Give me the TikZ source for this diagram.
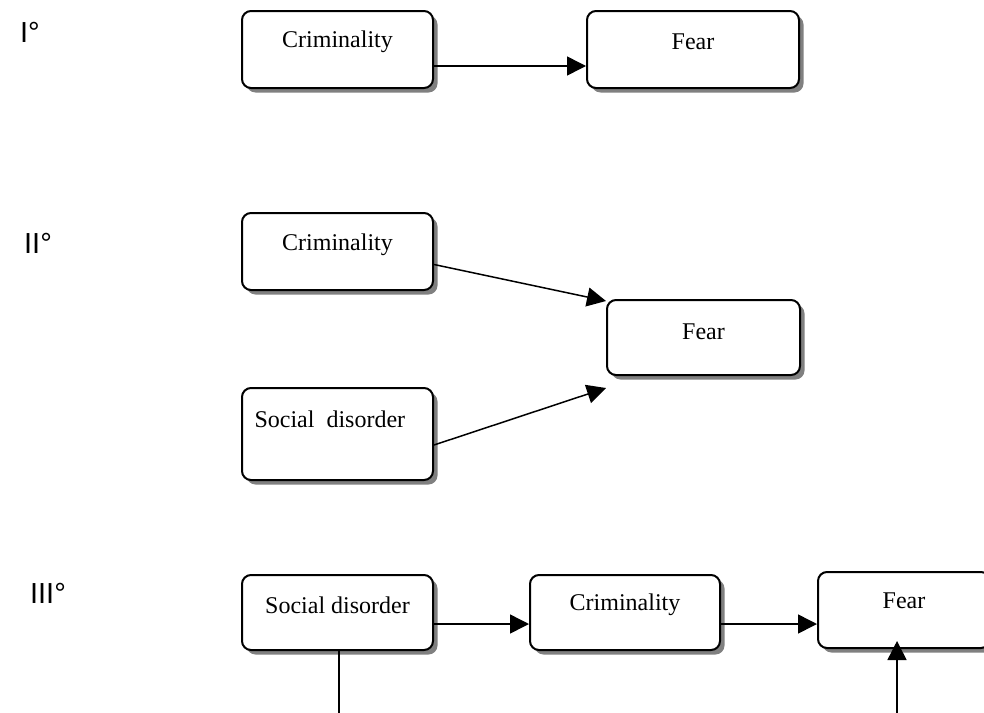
\documentclass[tikz,border=0pt]{standalone}
\usepackage{fontspec}
\setmainfont{Liberation Serif}
\newfontfamily\labfont{Liberation Sans}
\usetikzlibrary{arrows.meta,shadows,calc}
\begin{document}
\begin{tikzpicture}[x=1pt,y=-1pt,
  box/.style={draw=black,line width=2pt,rounded corners=9pt,fill=white,
    drop shadow={shadow xshift=4.5pt,shadow yshift=-4.5pt,fill=black!50,opacity=1},
    inner sep=0pt},
  arr/.style={line width=1.5pt,-{Triangle[length=19pt,width=19pt]}},
  ln/.style={line width=1.5pt},
  txt/.style={font=\fontsize{24}{28}\selectfont},
  lab/.style={font=\labfont\fontsize{29}{33}\selectfont}]
\useasboundingbox (0,0) rectangle (984,712);
\clip (0,0) rectangle (984,712);
% row I
\node[lab] (l1) at (30,32) {I°};
\node[box,minimum width=191pt,minimum height=77pt,
  label={[txt,anchor=center,yshift=-32pt]north:Criminality}] (c1) at (337.5,49.5) {};
\node[box,minimum width=212pt,minimum height=77pt,
  label={[txt,anchor=center,yshift=-32pt]north:Fear}] (f1) at (693,49.5) {};
\draw[arr] ([yshift=-16.5pt]c1.east) -- ([yshift=-16.5pt]f1.west);
% row II
\node[lab] (l2) at (38,243) {II°};
\node[box,minimum width=191pt,minimum height=77pt,
  label={[txt,anchor=center,yshift=-33pt]north:Criminality}] (c2) at (337.5,251.5) {};
\node[box,minimum width=193pt,minimum height=75pt,
  label={[txt,anchor=center,yshift=-33pt]north:Fear}] (f2) at (703.5,337.5) {};
\node[box,minimum width=191pt,minimum height=92pt,
  label={[txt,anchor=west,xshift=10pt,yshift=-32pt]north west:Social\ \ disorder}] (s2) at (337.5,434) {};
\draw[arr] ($(c2.east)+(0,13)$) -- ($(f2.north west)+(0,2)$);
\draw[arr] ($(s2.east)+(0,11)$) -- ($(f2.south west)+(0,12)$);
% row III
\node[lab] (l3) at (48,593) {III°};
\node[box,minimum width=191pt,minimum height=75pt,
  label={[txt,anchor=center,yshift=-31pt]north:Social disorder}] (s3) at (337.5,612.5) {};
\node[box,minimum width=190pt,minimum height=75pt,
  label={[txt,anchor=center,yshift=-31pt]north:Criminality}] (c3) at (625,612.5) {};
\node[box,minimum width=172pt,minimum height=76pt,
  label={[txt,anchor=center,yshift=-30pt]north:Fear}] (f3) at (904,610) {};
\draw[arr] ($(s3.east)+(0,11.5)$) -- ($(c3.west)+(0,11.5)$);
\draw[arr] ($(c3.east)+(0,11.5)$) -- ($(f3.west)+(0,14)$);
\coordinate (d1) at (339,725);
\coordinate (d2) at (897,725);
\draw[ln] (d1 |- s3.south) -- (d1);
\draw[arr] (d2) -- ($(d2 |- f3.south)+(0,-8)$);
\end{tikzpicture}
\end{document}
